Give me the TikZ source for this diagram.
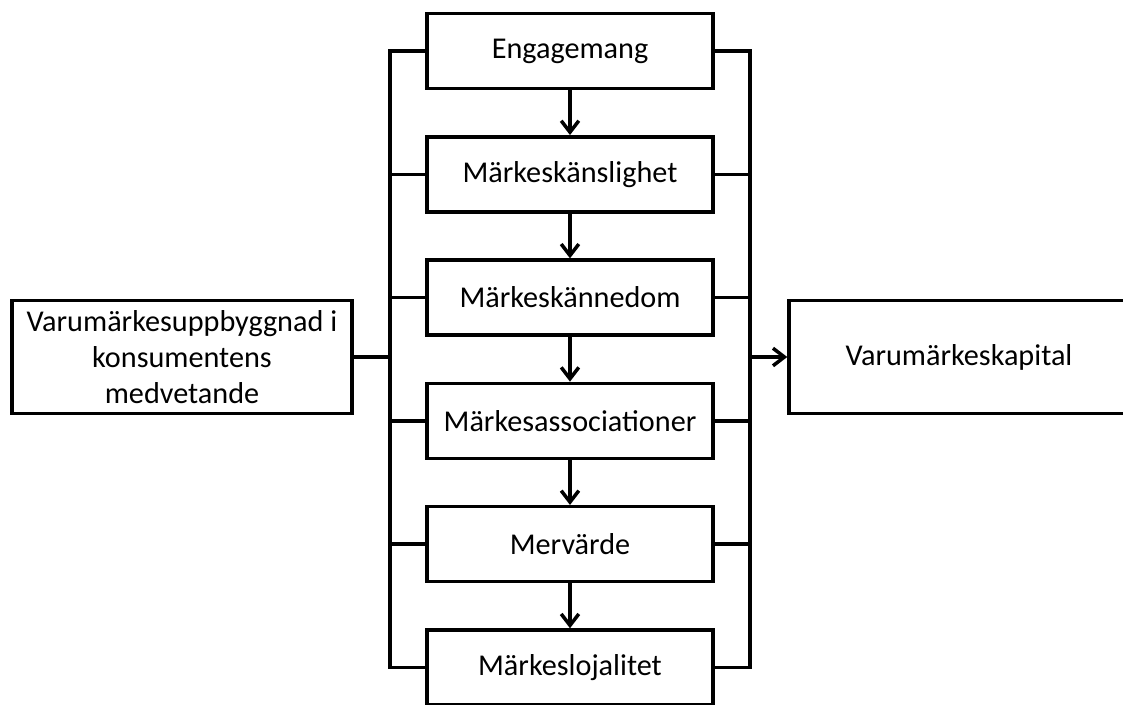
\documentclass[tikz,border=0pt]{standalone}
\usepackage{fontspec}
\setmainfont{Carlito}
\usepackage{tikz}
\usetikzlibrary{arrows.meta}

\begin{document}
\begin{tikzpicture}[x=0.02cm,y=-0.02cm,
    stage/.style={draw, line width=2pt, minimum width=5.72cm, minimum height=1.5cm,
        inner sep=0pt, font=\fontsize{17.2}{20.5}\selectfont},
    side/.style={stage, minimum width=6.8cm, minimum height=2.26cm, align=center},
    wire/.style={line width=2pt},
    flow/.style={wire, -{Straight Barb[length=6.5pt,width=10pt,line width=2pt]}}]
    \useasboundingbox (0,0) rectangle (1123,704);
    % central chain of stages
    \foreach \i/\n/\t in {0/eng/Engagemang,1/kans/Märkeskänslighet,2/kann/Märkeskännedom,
                          3/ass/Märkesassociationer,4/mer/Mervärde,5/loj/Märkeslojalitet}
        \node[stage] (\n) at (570,{51+123.3*\i}) {\t};
    \foreach \a/\b in {eng/kans,kans/kann,kann/ass,ass/mer,mer/loj}
        \draw[flow] (\a) -- (\b);
    % buses on either side
    \coordinate (lbus) at (390,0);
    \coordinate (rbus) at (750,0);
    \draw[wire] (eng.west) -- (eng.west -| lbus) -- (loj.west -| lbus) -- (loj.west);
    \draw[wire] (eng.east) -- (eng.east -| rbus) -- (loj.east -| rbus) -- (loj.east);
    \foreach \n in {kans,kann,ass,mer}
    {
        \draw[wire] (\n.west) -- (\n.west -| lbus);
        \draw[wire] (\n.east) -- (\n.east -| rbus);
    }
    % input and outcome
    \node[side] (bygg) at (182,357) {Varumärkesuppbyggnad i\\konsumentens\\medvetande};
    \node[side] (kap) at (959,357) {Varumärkeskapital};
    \draw[wire] (bygg.east) -- (bygg.east -| lbus);
    \draw[flow] (kap.west -| rbus) -- (kap.west);
\end{tikzpicture}
\end{document}
